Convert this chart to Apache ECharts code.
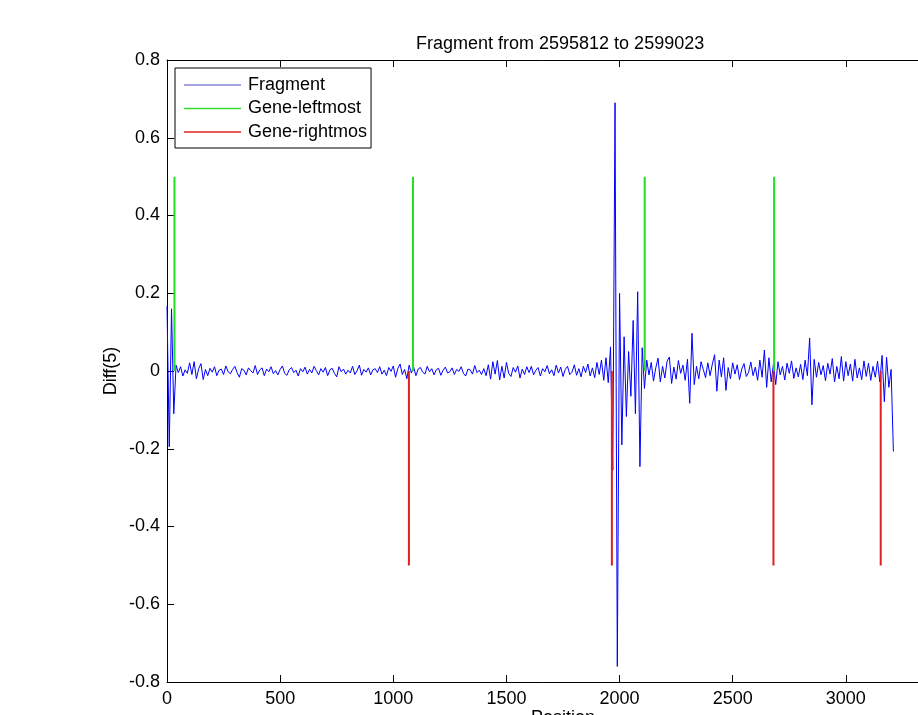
<!DOCTYPE html>
<html>
<head>
<meta charset="utf-8">
<script src="https://cdn.jsdelivr.net/npm/echarts@6/dist/echarts.min.js"></script>
<style>
html, body { margin: 0; padding: 0; background: #fff; overflow: hidden; }
#main { width: 918px; height: 715px; }
</style>
</head>
<body>
<div id="main"></div>
<script>
var step = 10;
var fragment = [
  0.167, -0.195, 0.16, -0.11, 0.015, -0.004, 0.011, -0.013, 0.003, -0.006,
  0.021, -0.009, 0.024, -0.02, 0.006, 0.019, -0.022, 0.004, -0.012, 0.007,
  -0.003, 0.011, -0.012, 0.002, 0.005, -0.009, 0.013, -0.002, -0.007, 0.004,
  0.012, -0.004, -0.016, 0.006, 0.002, -0.01, 0.008, 0.001, -0.005, 0.014,
  -0.009, 0.003, 0.008, -0.012, 0.005, -0.002, 0.011, -0.007, 0.001, -0.01,
  0.004, 0.013, -0.006, -0.011, 0.003, 0.009, -0.004, 0.002, -0.013, 0.006,
  -0.002, 0.01, -0.008, 0.004, -0.005, 0.012, 0.001, -0.01, 0.006, -0.003,
  0.009, -0.012, 0.003, 0.007, -0.006, -0.015, 0.011, -0.002, 0.005, -0.008,
  0.002, -0.005, 0.012, -0.009, 0.001, 0.015, -0.011, 0.004, -0.003, 0.008,
  -0.01, 0.003, 0.006, -0.004, 0.011, -0.008, 0.002, -0.012, 0.009, -0.001,
  0.013, -0.016, 0.006, 0.018, -0.009, 0.004, -0.02, 0.015, -0.005, 0.01,
  -0.012, 0.005, 0.009, -0.003, -0.008, 0.012, -0.002, 0.006, -0.01, 0.003,
  0.007, -0.011, 0.002, 0.01, -0.005, -0.002, 0.008, -0.009, 0.004, -0.001,
  0.011, -0.006, -0.013, 0.005, 0.003, -0.008, 0.014, -0.004, 0.002, -0.009,
  0.006, -0.012, 0.016, -0.021, 0.024, -0.008, 0.027, -0.023, 0.012, -0.018,
  0.022, -0.006, -0.014, 0.009, -0.003, 0.013, -0.018, 0.005, -0.009, 0.011,
  -0.004, 0.012, -0.01, 0.002, 0.009, -0.013, 0.006, -0.002, 0.014, -0.007,
  0.003, -0.012, 0.015, -0.005, 0.01, -0.014, 0.004, 0.012, -0.009, -0.003,
  0.016, -0.011, 0.006, -0.015, 0.012, -0.004, 0.018, -0.013, 0.008, -0.017,
  0.022, -0.009, 0.028, -0.024, 0.034, -0.03, 0.062, -0.255, 0.69, -0.76,
  0.2, -0.19, 0.088, -0.117, 0.05, -0.065, 0.13, -0.11, 0.204, -0.246,
  0.06, -0.045, 0.028, -0.01, 0.022, -0.026, 0.008, 0.033, -0.028, 0.012,
  -0.018, 0.025, 0.036, -0.032, 0.01, -0.021, 0.027, -0.006, 0.015, -0.024,
  0.03, -0.083, 0.097, -0.035, 0.012, -0.02, 0.024, 0.004, -0.017, 0.021,
  -0.012, 0.018, 0.042, -0.052, 0.028, -0.015, 0.034, -0.05, 0.009, -0.02,
  0.021, -0.008, 0.016, -0.022, 0.005, 0.019, -0.014, -0.004, 0.023, -0.012,
  0.01, -0.024, 0.028, -0.016, 0.054, -0.042, 0.034, -0.028, 0.018, -0.035,
  0.024, -0.01, 0.012, -0.023, 0.02, -0.006, 0.026, -0.019, 0.008, -0.015,
  0.017, -0.022, 0.028, -0.012, 0.085, -0.087, 0.03, -0.016, 0.022, -0.01,
  0.014, -0.025, 0.02, -0.008, 0.032, -0.028, 0.012, -0.02, 0.037, -0.026,
  0.024, -0.012, 0.018, -0.026, 0.03, -0.018, 0.008, -0.022, 0.026, -0.014,
  0.02, -0.024, 0.012, -0.016, 0.025, -0.028, 0.04, -0.079, 0.035, -0.042,
  0.004, -0.207
];

var leftmostPos = [33, 1087, 2111, 2683];
var rightmostPos = [1069, 1966, 2680, 3154];
var leftmostH = 0.5;
var rightmostH = -0.5;

var xTicks = { min: 0, max: 3500, interval: 500 };
var yTicks = { min: -0.8, max: 0.8, interval: 0.2 };

var fragData = fragment.map(function (v, i) { return [i * step, v]; });

function stems(pos, h) {
  var out = [];
  pos.forEach(function (p) {
    out.push([p, 0], [p, h], [p, '-']);
  });
  return out;
}

var font = 'Liberation Sans, Arial, sans-serif';
var chart = echarts.init(document.getElementById('main'));

var option = {
  animation: false,
  backgroundColor: '#fff',
  title: {
    text: 'Fragment from 2595812 to 2599023',
    left: 411,
    top: 30,
    textStyle: { fontFamily: font, fontSize: 18, fontWeight: 'normal', color: '#000' }
  },
  legend: {
    orient: 'vertical',
    left: 175,
    top: 68,
    padding: [8, 4, 7, 9],
    itemGap: 5.5,
    itemWidth: 57,
    itemHeight: 1.5,
    icon: 'rect',
    borderColor: '#000',
    borderWidth: 1,
    backgroundColor: '#fff',
    textStyle: { fontFamily: font, fontSize: 18, color: '#000', padding: [0, 0, 0, 2] },
    data: [
      { name: 'Fragment', itemStyle: { color: '#8585d8' } },
      { name: 'Gene-leftmost', itemStyle: { color: '#33dd33' } },
      { name: 'Gene-rightmos', itemStyle: { color: '#dd2222' } }
    ]
  },
  grid: { left: 167, right: -41, top: 60, bottom: 33, containLabel: false, outerBoundsMode: 'none' },
  xAxis: [{
    type: 'value',
    min: xTicks.min, max: xTicks.max, interval: xTicks.interval,
    name: 'Position',
    nameLocation: 'middle',
    nameGap: 27,
    nameMoveOverlap: false,
    nameTextStyle: { fontFamily: font, fontSize: 18, color: '#000' },
    axisLine: { show: true, onZero: false, lineStyle: { color: '#000', width: 1 } },
    axisTick: { show: true, inside: true, length: 7, lineStyle: { color: '#000' } },
    axisLabel: { fontFamily: font, fontSize: 18, color: '#000', margin: 8,
      formatter: function (v) { return String(v); } },
    splitLine: { show: false }
  }, {
    type: 'value',
    position: 'top',
    min: xTicks.min, max: xTicks.max, interval: xTicks.interval,
    axisLine: { show: true, onZero: false, lineStyle: { color: '#000', width: 1 } },
    axisTick: { show: true, inside: true, length: 7, lineStyle: { color: '#000' } },
    axisLabel: { show: false },
    splitLine: { show: false }
  }],
  yAxis: [{
    type: 'value',
    min: yTicks.min, max: yTicks.max, interval: yTicks.interval,
    name: 'Diff(5)',
    nameLocation: 'middle',
    nameGap: 47,
    nameRotate: 90,
    nameMoveOverlap: false,
    nameTextStyle: { fontFamily: font, fontSize: 18, color: '#000' },
    axisLine: { show: true, onZero: false, lineStyle: { color: '#000', width: 1 } },
    axisTick: { show: true, inside: true, length: 7, lineStyle: { color: '#000' } },
    axisLabel: { fontFamily: font, fontSize: 18, color: '#000', margin: 7,
      formatter: function (v) { return String(Math.round(v * 10) / 10); } },
    splitLine: { show: false }
  }],
  series: [{
    name: 'Fragment',
    type: 'line',
    data: fragData,
    showSymbol: false,
    symbol: 'none',
    lineStyle: { color: '#0000ff', width: 1 },
    itemStyle: { color: '#0000ff' }
  }, {
    name: 'Gene-leftmost',
    type: 'line',
    data: stems(leftmostPos, leftmostH),
    showSymbol: false,
    symbol: 'none',
    connectNulls: false,
    lineStyle: { color: '#22dd22', width: 2 },
    itemStyle: { color: '#22dd22' }
  }, {
    name: 'Gene-rightmos',
    type: 'line',
    data: stems(rightmostPos, rightmostH),
    showSymbol: false,
    symbol: 'none',
    connectNulls: false,
    lineStyle: { color: '#e02020', width: 2 },
    itemStyle: { color: '#e02020' }
  }]
};

chart.setOption(option);
</script>
</body>
</html>
